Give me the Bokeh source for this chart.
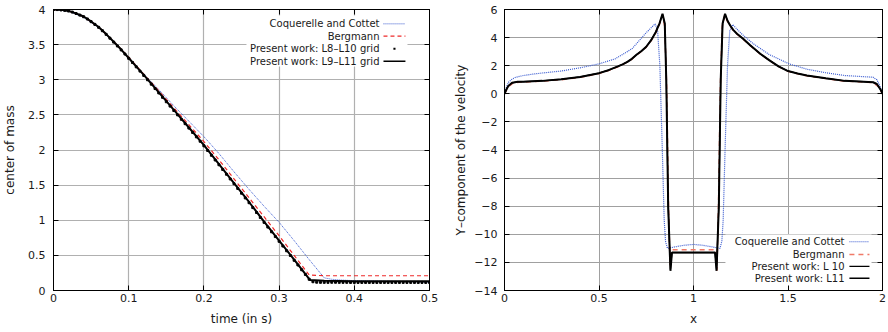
from bokeh.plotting import figure
from bokeh.models import (FixedTicker, LinearAxis, Range1d, Label, Arrow,
                          BoxAnnotation, CustomJSTickFormatter)
from bokeh.layouts import row
from bokeh.embed import file_html
from bokeh.resources import INLINE

FONT = "DejaVu Sans"

# ---------------- Left panel data: center of mass vs time ----------------
t_coq = [0, 0.02, 0.04, 0.06, 0.08, 0.10, 0.12, 0.14, 0.16, 0.18, 0.20, 0.22,
         0.24, 0.26, 0.28, 0.30, 0.32, 0.34, 0.36, 0.37, 0.38, 0.40, 0.45, 0.50]
y_coq = [4.0, 3.975, 3.89, 3.74, 3.535, 3.31, 3.08, 2.86, 2.63, 2.41, 2.19, 1.95,
         1.69, 1.44, 1.20, 0.97, 0.71, 0.44, 0.18, 0.16, 0.15, 0.14, 0.13, 0.12]

t_berg = [0, 0.02, 0.04, 0.06, 0.08, 0.10, 0.12, 0.14, 0.16, 0.18, 0.20, 0.22,
          0.24, 0.26, 0.28, 0.30, 0.32, 0.34, 0.36, 0.40, 0.45, 0.50]
y_berg = [4.0, 3.98, 3.90, 3.75, 3.545, 3.32, 3.08, 2.84, 2.60, 2.36, 2.12, 1.86,
          1.59, 1.32, 1.05, 0.78, 0.50, 0.22, 0.21, 0.21, 0.21, 0.21]

t_l9 = [0, 0.01, 0.02, 0.03, 0.04, 0.05, 0.06, 0.07, 0.08, 0.09, 0.10, 0.12, 0.14,
        0.16, 0.18, 0.20, 0.22, 0.24, 0.26, 0.28, 0.30, 0.32, 0.341, 0.36, 0.40,
        0.45, 0.50]
y_l9 = [4.0, 3.995, 3.98, 3.945, 3.90, 3.83, 3.75, 3.65, 3.54, 3.43, 3.31, 3.07,
        2.82, 2.57, 2.32, 2.07, 1.80, 1.53, 1.26, 0.98, 0.71, 0.44, 0.15, 0.14,
        0.13, 0.13, 0.13]

t_l8 = [0.000, 0.005, 0.010, 0.015, 0.020, 0.025, 0.030, 0.035, 0.040, 0.045,
        0.050, 0.055, 0.060, 0.065, 0.070, 0.075, 0.080, 0.085, 0.090, 0.095,
        0.100, 0.105, 0.110, 0.115, 0.120, 0.125, 0.130, 0.135, 0.140, 0.145,
        0.150, 0.155, 0.160, 0.165, 0.170, 0.175, 0.180, 0.185, 0.190, 0.195,
        0.200, 0.205, 0.210, 0.215, 0.220, 0.225, 0.230, 0.235, 0.240, 0.245,
        0.250, 0.255, 0.260, 0.265, 0.270, 0.275, 0.280, 0.285, 0.290, 0.295,
        0.300, 0.305, 0.310, 0.315, 0.320, 0.325, 0.330, 0.335, 0.340, 0.345,
        0.350, 0.355, 0.360, 0.365, 0.370, 0.375, 0.380, 0.385, 0.390, 0.395,
        0.400, 0.405, 0.410, 0.415, 0.420, 0.425, 0.430, 0.435, 0.440, 0.445,
        0.450, 0.455, 0.460, 0.465, 0.470, 0.475, 0.480, 0.485, 0.490, 0.495,
        0.500]
y_l8 = [4.000, 3.999, 3.994, 3.988, 3.978, 3.963, 3.943, 3.920, 3.897, 3.865,
        3.827, 3.788, 3.746, 3.698, 3.646, 3.592, 3.536, 3.481, 3.425, 3.366,
        3.305, 3.245, 3.184, 3.123, 3.062, 3.000, 2.937, 2.875, 2.812, 2.750,
        2.687, 2.625, 2.562, 2.500, 2.437, 2.375, 2.312, 2.250, 2.187, 2.125,
        2.060, 1.993, 1.925, 1.858, 1.790, 1.723, 1.655, 1.588, 1.520, 1.453,
        1.385, 1.318, 1.250, 1.180, 1.110, 1.040, 0.970, 0.903, 0.835, 0.768,
        0.700, 0.633, 0.565, 0.498, 0.430, 0.363, 0.295, 0.228, 0.160, 0.125,
        0.118, 0.116, 0.116, 0.116, 0.117, 0.117, 0.116, 0.116, 0.116, 0.115,
        0.115, 0.115, 0.115, 0.115, 0.115, 0.115, 0.115, 0.115, 0.115, 0.115,
        0.115, 0.115, 0.115, 0.115, 0.115, 0.115, 0.115, 0.115, 0.115, 0.115,
        0.115]

left_xticks = [0, 0.1, 0.2, 0.3, 0.4, 0.5]
left_xlabels = ["0", "0.1", "0.2", "0.3", "0.4", "0.5"]
left_yticks = [0, 0.5, 1, 1.5, 2, 2.5, 3, 3.5, 4]
left_ylabels = ["0", "0.5", "1", "1.5", "2", "2.5", "3", "3.5", "4"]
left_legend = ["Coquerelle and Cottet", "Bergmann",
               "Present work: L8\u2013L10 grid", "Present work: L9\u2013L11 grid"]

# ---------------- Right panel data: Y-component of velocity vs x ----------------
x_coq2 = [0, 0.01, 0.02, 0.04, 0.06, 0.1, 0.15, 0.2, 0.3, 0.4, 0.5, 0.586, 0.674,
          0.744, 0.797, 0.81, 0.822, 0.835, 0.845, 0.852, 0.862, 0.9, 0.95, 1.0,
          1.05, 1.1, 1.14, 1.15, 1.157, 1.167, 1.18, 1.192, 1.208, 1.23, 1.26,
          1.317, 1.4, 1.506, 1.6, 1.7, 1.8, 1.9, 1.95, 1.97, 1.985, 2.0]
y_coq2 = [0, 0.45, 0.8, 1.05, 1.18, 1.3, 1.4, 1.48, 1.62, 1.85, 2.13, 2.49, 3.2,
          4.27, 4.98, 4.5, 2.0, -4.0, -9.0, -10.5, -11.0, -10.9, -10.78, -10.72,
          -10.78, -10.9, -11.0, -10.5, -9.0, -4.0, 2.0, 4.5, 4.93, 4.6, 4.2,
          3.56, 2.8, 2.13, 1.75, 1.5, 1.3, 1.22, 1.18, 1.0, 0.6, 0]

x_berg2 = [0, 0.02, 0.05, 0.1, 0.2, 0.3, 0.4, 0.5, 0.55, 0.6, 0.625, 0.674, 0.7,
           0.725, 0.75, 0.775, 0.8, 0.81, 0.82, 0.835, 0.848, 0.858, 0.868, 0.876,
           0.882, 1.0, 1.118, 1.124, 1.132, 1.142, 1.152, 1.165, 1.18, 1.194,
           1.21, 1.23, 1.264, 1.3, 1.353, 1.4, 1.45, 1.5, 1.55, 1.6, 1.7, 1.8,
           1.9, 1.95, 1.98, 2.0]
y_berg2 = [0, 0.5, 0.8, 0.84, 0.9, 1.0, 1.17, 1.44, 1.65, 1.92, 2.08, 2.46, 2.77,
           3.02, 3.32, 3.76, 4.33, 4.65, 4.95, 5.6, 4.8, 0.5, -8.0, -12.2, -11.1,
           -11.1, -11.1, -12.6, -8.0, 0.5, 4.8, 5.6, 5.15, 4.82, 4.52, 4.24, 3.87,
           3.43, 2.83, 2.38, 1.94, 1.6, 1.43, 1.28, 1.08, 0.9, 0.84, 0.8, 0.5, 0]

x_l10 = [0, 0.01, 0.02, 0.04, 0.07, 0.1, 0.2, 0.3, 0.4, 0.5, 0.55, 0.6, 0.625,
         0.65, 0.674, 0.7, 0.725, 0.75, 0.775, 0.8, 0.81, 0.82, 0.836, 0.848,
         0.856, 0.866, 0.878, 0.886, 1.0, 1.114, 1.122, 1.134, 1.144, 1.154,
         1.167, 1.18, 1.194, 1.21, 1.23, 1.264, 1.3, 1.353, 1.4, 1.45, 1.5, 1.55,
         1.6, 1.7, 1.8, 1.9, 1.95, 1.97, 1.99, 2.0]
y_l10 = [0, 0.3, 0.55, 0.78, 0.85, 0.86, 0.92, 1.03, 1.2, 1.47, 1.68, 1.95, 2.1,
         2.27, 2.49, 2.8, 3.05, 3.35, 3.8, 4.38, 4.7, 5.0, 5.65, 5.0, 1.0, -8.0,
         -12.5, -11.3, -11.3, -11.3, -12.5, -8.0, 1.0, 5.0, 5.65, 5.2, 4.86, 4.55,
         4.27, 3.9, 3.45, 2.85, 2.4, 1.95, 1.62, 1.45, 1.3, 1.1, 0.92, 0.86, 0.82,
         0.7, 0.3, 0]

x_l11 = [0, 0.01, 0.02, 0.04, 0.07, 0.1, 0.2, 0.3, 0.4, 0.5, 0.55, 0.6, 0.625,
         0.65, 0.674, 0.7, 0.725, 0.75, 0.775, 0.8, 0.81, 0.82, 0.836, 0.848,
         0.856, 0.866, 0.878, 0.886, 1.0, 1.114, 1.122, 1.134, 1.144, 1.154,
         1.167, 1.18, 1.194, 1.21, 1.23, 1.264, 1.3, 1.353, 1.4, 1.45, 1.5, 1.55,
         1.6, 1.7, 1.8, 1.9, 1.95, 1.97, 1.99, 2.0]
y_l11 = [0, 0.3, 0.55, 0.78, 0.85, 0.86, 0.92, 1.03, 1.2, 1.47, 1.68, 1.95, 2.1,
         2.27, 2.49, 2.8, 3.05, 3.35, 3.8, 4.38, 4.7, 5.0, 5.7, 5.0, 1.0, -8.0,
         -12.6, -11.3, -11.3, -11.3, -12.6, -8.0, 1.0, 5.0, 5.7, 5.2, 4.86, 4.55,
         4.27, 3.9, 3.45, 2.85, 2.4, 1.95, 1.62, 1.45, 1.3, 1.1, 0.92, 0.86, 0.82,
         0.7, 0.3, 0]

right_xticks = [0, 0.5, 1, 1.5, 2]
right_xlabels = ["0", "0.5", "1", "1.5", "2"]
right_yticks = [-14, -12, -10, -8, -6, -4, -2, 0, 2, 4, 6]
right_ylabels = ["\u221214", "\u221212", "\u221210", "\u22128", "\u22126", "\u22124",
                 "\u22122", "0", "2", "4", "6"]
right_legend = ["Coquerelle and Cottet", "Bergmann",
                "Present work: L 10", "Present work: L11"]

BLUE = "#3a5bd0"
RED_L = "#ee2a2a"
RED_R = "#f07a68"
TEXT = "#1a1a1a"


def make_formatter(tick_list, label_list):
    return CustomJSTickFormatter(
        args=dict(tk=tick_list, lb=label_list),
        code="""
        for (let i = 0; i < tk.length; i++) {
            if (Math.abs(tk[i] - tick) < 1e-9) { return lb[i]; }
        }
        return '';
        """)


def style_axis(ax, ticks, labels, std):
    ax.ticker = FixedTicker(ticks=ticks)
    ax.formatter = make_formatter(ticks, labels)
    ax.major_tick_in = 5
    ax.major_tick_out = 0
    ax.minor_tick_line_color = None
    ax.axis_line_color = "black"
    ax.major_tick_line_color = "black"
    ax.major_label_text_font = FONT
    ax.major_label_text_font_size = "11px"
    ax.major_label_text_color = TEXT
    ax.major_label_standoff = std
    ax.axis_label_text_font = FONT
    ax.axis_label_text_font_size = "12px"
    ax.axis_label_text_font_style = "normal"
    ax.axis_label_text_color = TEXT


def mirror_axis(p, ticks, side):
    ax = LinearAxis(ticker=FixedTicker(ticks=ticks))
    ax.major_tick_in = 5
    ax.major_tick_out = 0
    ax.minor_tick_line_color = None
    ax.axis_line_color = "black"
    ax.major_tick_line_color = "black"
    ax.major_label_text_font_size = "1px"
    ax.major_label_text_color = None
    ax.major_label_standoff = 0
    p.add_layout(ax, side)


def make_fig(xr, yr, xl, yl, bl, br, fw, grid_color, grid_w):
    p = figure(x_range=Range1d(*xr), y_range=Range1d(*yr),
               frame_width=fw, frame_height=281,
               min_border_left=bl, min_border_right=br,
               min_border_top=9, min_border_bottom=42,
               x_axis_label=xl, y_axis_label=yl,
               output_backend="svg", toolbar_location=None)
    p.outline_line_color = "black"
    p.outline_line_width = 1
    p.xgrid.grid_line_color = grid_color
    p.ygrid.grid_line_color = grid_color
    p.xgrid.grid_line_width = grid_w
    p.ygrid.grid_line_width = grid_w
    p.background_fill_color = "white"
    p.border_fill_color = "white"
    return p


def add_legend(p, labels, xtext, ys, xs0, xs1, styles, box, dot_dx, dot_dy):
    p.add_layout(BoxAnnotation(left=box[0], right=box[1], bottom=box[2], top=box[3],
                               fill_color="white", fill_alpha=1.0, line_color=None,
                               level="underlay"))
    for lab, yy, st in zip(labels, ys, styles):
        p.add_layout(Label(x=xtext, y=yy, text=lab, text_align="right",
                           text_baseline="middle", text_font=FONT,
                           text_font_size="10px", text_color=TEXT))
        if st.get("dot"):
            xm = (xs0 + xs1) / 2
            p.add_layout(BoxAnnotation(left=xm - dot_dx, right=xm + dot_dx,
                                       bottom=yy - dot_dy, top=yy + dot_dy,
                                       fill_color="black", fill_alpha=1.0,
                                       line_color=None))
        else:
            p.add_layout(Arrow(end=None, x_start=xs0, y_start=yy, x_end=xs1, y_end=yy,
                               line_color=st["color"], line_width=st["width"],
                               line_dash=st["dash"]))


# ---------------- Left figure ----------------
p1 = make_fig((0, 0.5), (0, 4), "time (in s)", "center of mass", 50, 18, 376,
              "#b0b0b0", 1.2)
style_axis(p1.xaxis[0], left_xticks, left_xlabels, 3)
style_axis(p1.yaxis[0], left_yticks, left_ylabels, 8)
p1.yaxis[0].axis_label_standoff = 8
p1.xaxis[0].axis_label_standoff = 7
p1.xgrid.ticker = FixedTicker(ticks=left_xticks)
p1.ygrid.ticker = FixedTicker(ticks=left_yticks)
mirror_axis(p1, left_xticks, "above")
mirror_axis(p1, left_yticks, "right")

p1.line(t_coq, y_coq, line_color=BLUE, line_width=1, line_dash="1 1")
p1.line(t_berg, y_berg, line_color=RED_L, line_width=1.2, line_dash="4 3")
p1.scatter(t_l8, y_l8, marker="square", size=2, color="black")
p1.line(t_l9, y_l9, line_color="black", line_width=2)

add_legend(p1, left_legend, 0.4335, [3.796, 3.62, 3.44, 3.264], 0.4388, 0.468,
           [dict(color=BLUE, width=1, dash="1 1"),
            dict(color=RED_L, width=1.2, dash="4 3"),
            dict(dot=True),
            dict(color="black", width=1.5, dash="solid")],
           (0.2566, 0.4707, 3.189, 3.915), 0.0014, 0.014)

# ---------------- Right figure ----------------
p2 = make_fig((0, 2), (-14, 6), "x", "Y\u2013component of the velocity", 57, 9, 378,
              "#a0a0a0", 1)
style_axis(p2.xaxis[0], right_xticks, right_xlabels, 3)
style_axis(p2.yaxis[0], right_yticks, right_ylabels, 7)
p2.yaxis[0].axis_label_standoff = 3
p2.xaxis[0].axis_label_standoff = 7
p2.xgrid.ticker = FixedTicker(ticks=right_xticks)
p2.ygrid.ticker = FixedTicker(ticks=right_yticks)
mirror_axis(p2, right_xticks, "above")
mirror_axis(p2, right_yticks, "right")

p2.line(x_coq2, y_coq2, line_color=BLUE, line_width=1.2, line_dash="1 1")
p2.line(x_berg2, y_berg2, line_color=RED_R, line_width=1.5, line_dash="5 4")
p2.line(x_l10, y_l10, line_color="black", line_width=1.2)
p2.line(x_l11, y_l11, line_color="black", line_width=2)

add_legend(p2, right_legend, 1.799, [-10.53, -11.44, -12.29, -13.12], 1.825, 1.931,
           [dict(color=BLUE, width=1.2, dash="1 1"),
            dict(color=RED_R, width=1.5, dash="5 4"),
            dict(color="black", width=1.2, dash="solid"),
            dict(color="black", width=1.5, dash="solid")],
           (1.169, 1.942, -13.86, -10.01), 0.005, 0.07)

layout = row(p1, p2)
open("out.html", "w").write(file_html(layout, INLINE))
